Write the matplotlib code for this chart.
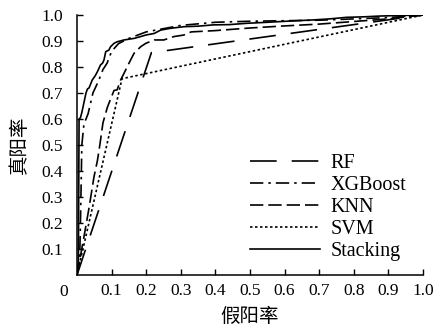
import matplotlib
matplotlib.use("Agg")
import matplotlib.pyplot as plt

plt.rcParams['font.family'] = ['Liberation Serif', 'Noto Sans CJK SC']

# ROC 曲线点 (假阳率, 真阳率)
rf_x = [0, 0.215, 1.0]
rf_y = [0, 0.855, 1.0]

xgb_x = [0, 0.008, 0.010, 0.012, 0.014, 0.020, 0.032, 0.046, 0.060, 0.075, 0.087,
         0.100, 0.120, 0.150, 0.200, 0.300, 0.400, 0.500, 0.600, 0.700, 0.800, 0.900, 1.0]
xgb_y = [0, 0.08, 0.20, 0.35, 0.50, 0.58, 0.62, 0.70, 0.74, 0.79, 0.815,
         0.86, 0.89, 0.91, 0.935, 0.960, 0.972, 0.976, 0.978, 0.980, 0.985, 0.990, 1.0]

knn_x = [0, 0.020, 0.035, 0.049, 0.059, 0.066, 0.075, 0.088, 0.107, 0.116, 0.126,
         0.136, 0.150, 0.165, 0.184, 0.199, 0.223, 0.251, 0.280, 0.309, 0.330,
         0.400, 0.500, 0.600, 0.700, 0.800, 0.900, 1.0]
knn_y = [0, 0.146, 0.26, 0.377, 0.44, 0.50, 0.585, 0.646, 0.71, 0.712, 0.75,
         0.776, 0.814, 0.853, 0.878, 0.891, 0.904, 0.904, 0.917, 0.923, 0.935,
         0.940, 0.950, 0.958, 0.965, 0.975, 0.985, 1.0]

svm_x = [0, 0.13, 1.0]
svm_y = [0, 0.755, 1.0]

stk_x = [0, 0.004, 0.006, 0.010, 0.014, 0.018, 0.022, 0.026, 0.030, 0.035, 0.044,
         0.052, 0.059, 0.068, 0.074, 0.078, 0.083, 0.092, 0.097, 0.107, 0.116,
         0.136, 0.165, 0.184, 0.199, 0.223, 0.242, 0.271, 0.309, 0.350, 0.394,
         0.440, 0.490, 0.550, 0.620, 0.682, 0.730, 0.779, 0.830, 0.876, 0.930, 1.0]
stk_y = [0, 0.05, 0.60, 0.605, 0.625, 0.65, 0.675, 0.70, 0.715, 0.72, 0.75,
         0.765, 0.782, 0.808, 0.815, 0.827, 0.859, 0.865, 0.878, 0.891, 0.897,
         0.904, 0.910, 0.917, 0.923, 0.929, 0.942, 0.949, 0.955, 0.957, 0.962,
         0.963, 0.968, 0.972, 0.977, 0.981, 0.985, 0.991, 0.993, 0.996, 0.998, 1.0]

ticks = [0.1, 0.2, 0.3, 0.4, 0.5, 0.6, 0.7, 0.8, 0.9, 1.0]
tick_labels = ['0.1', '0.2', '0.3', '0.4', '0.5', '0.6', '0.7', '0.8', '0.9', '1.0']

fig = plt.figure(figsize=(4.36, 3.26), dpi=100)
ax = fig.add_axes([0.1766, 0.1564, 0.7936, 0.7976])

lw = 1.2
ax.plot(rf_x, rf_y, color='black', lw=lw, dashes=(16, 9), label='RF')
ax.plot(xgb_x, xgb_y, color='black', lw=lw, dashes=(8, 3, 1.5, 3), label='XGBoost')
ax.plot(knn_x, knn_y, color='black', lw=lw, dashes=(8, 3), label='KNN')
ax.plot(svm_x, svm_y, color='black', lw=lw, dashes=(1.5, 1.5), label='SVM')
ax.plot(stk_x, stk_y, color='black', lw=lw, label='Stacking')

ax.set_xlim(0, 1.0)
ax.set_ylim(0, 1.0)
ax.set_xticks(ticks)
ax.set_xticklabels(tick_labels)
ax.set_yticks(ticks)
ax.set_yticklabels(tick_labels)
ax.tick_params(direction='in', length=4, width=1, labelsize=12.5, colors='black')
ax.tick_params(axis='y', pad=10)
ax.tick_params(axis='x', pad=6)
for s in ['top', 'right']:
    ax.spines[s].set_visible(False)
for s in ['left', 'bottom']:
    ax.spines[s].set_linewidth(1.1)

# 原点处的 "0"
ax.text(-0.025, -0.035, '0', transform=ax.transAxes, fontsize=12.5,
        ha='right', va='top')

ax.set_xlabel('假阳率', fontsize=14, labelpad=6)
ax.set_ylabel('真阳率', fontsize=14, labelpad=9)

ax.legend(loc='center left', bbox_to_anchor=(0.5, 0.26), frameon=False,
          fontsize=14.5, handlelength=3.5, handletextpad=0.5, labelspacing=0.14,
          borderpad=0, borderaxespad=0)

fig.savefig('out.png', dpi=100)
